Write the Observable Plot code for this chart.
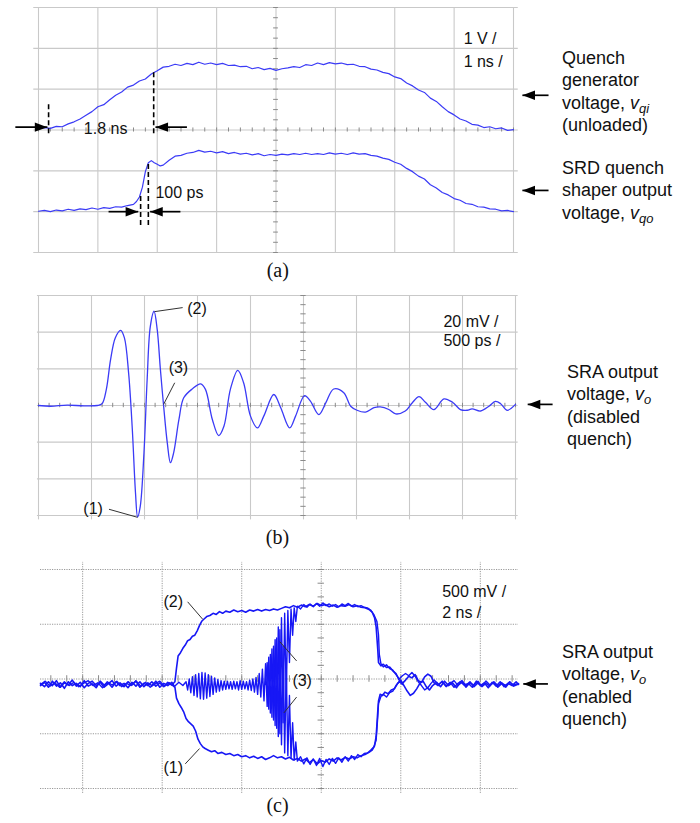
<!DOCTYPE html>
<html><head><meta charset="utf-8">
<script src="https://cdn.jsdelivr.net/npm/d3@7"></script>
<script src="https://cdn.jsdelivr.net/npm/@observablehq/plot@0.6"></script>
<style>
body{margin:0;background:#fff}
#wrap{position:relative;width:700px;height:823px;overflow:hidden;background:#fff}
.panel{position:absolute;left:0}
.lab{position:absolute;font-family:"Liberation Sans",Arial,sans-serif;font-size:18px;line-height:22.4px;color:#111;white-space:nowrap}
.lab i{font-style:italic}
.lab sub{font-size:0.72em;vertical-align:-0.3em;line-height:0}
</style></head>
<body><div id="wrap">
<div class="panel" id="pa" style="top:0"></div>
<div class="panel" id="pb" style="top:280px"></div>
<div class="panel" id="pc" style="top:545px"></div>
<div class="lab" style="left:562px;top:47px">Quench<br>generator<br>voltage, <i>v</i><sub><i>qi</i></sub><br>(unloaded)</div>
<div class="lab" style="left:562px;top:157px">SRD quench<br>shaper output<br>voltage, <i>v</i><sub><i>qo</i></sub></div>
<div class="lab" style="left:567px;top:361px">SRA output<br>voltage, <i>v</i><sub><i>o</i></sub><br>(disabled<br>quench)</div>
<div class="lab" style="left:562px;top:641px">SRA output<br>voltage, <i>v</i><sub><i>o</i></sub><br>(enabled<br>quench)</div>
</div>
<script>
// ---------- Panel (a): quench generator / SRD shaper (x: 1 ns/div, y: 1 V/div) ----------
const vqi = [[0,3.03],[0.1,3.06],[0.2,3.04],[0.3,3.09],[0.4,3.08],[0.5,3.15],[0.6,3.2],[0.7,3.27],[0.8,3.36],[0.9,3.45],[1.0,3.57],[1.1,3.62],[1.2,3.74],[1.3,3.85],[1.4,3.93],[1.5,4.05],[1.6,4.1],[1.7,4.2],[1.8,4.25],[1.9,4.37],[2.0,4.45],[2.1,4.54],[2.2,4.56],[2.3,4.61],[2.4,4.58],[2.5,4.63],[2.6,4.6],[2.7,4.66],[2.8,4.61],[2.9,4.64],[3.0,4.6],[3.1,4.63],[3.2,4.58],[3.3,4.59],[3.4,4.55],[3.5,4.56],[3.6,4.5],[3.7,4.53],[3.8,4.48],[3.9,4.51],[4.0,4.46],[4.1,4.5],[4.2,4.52],[4.3,4.55],[4.4,4.53],[4.5,4.6],[4.6,4.58],[4.7,4.64],[4.8,4.6],[4.9,4.65],[5.0,4.62],[5.1,4.64],[5.2,4.6],[5.3,4.61],[5.4,4.56],[5.5,4.55],[5.6,4.49],[5.7,4.47],[5.8,4.41],[5.9,4.38],[6.0,4.3],[6.1,4.26],[6.2,4.15],[6.3,4.08],[6.4,3.98],[6.5,3.92],[6.6,3.78],[6.7,3.7],[6.8,3.57],[6.9,3.45],[7.0,3.37],[7.1,3.27],[7.2,3.22],[7.3,3.14],[7.4,3.12],[7.5,3.06],[7.6,3.08],[7.7,3.03],[7.8,3.05],[7.9,2.99],[8.0,3.01]];
const vqo = [[0,1.01],[0.1,1.03],[0.2,1.0],[0.3,1.04],[0.4,1.02],[0.5,1.06],[0.6,1.03],[0.7,1.07],[0.8,1.05],[0.9,1.09],[1.0,1.06],[1.1,1.1],[1.2,1.08],[1.3,1.12],[1.4,1.11],[1.5,1.15],[1.6,1.18],[1.65,1.25],[1.7,1.36],[1.75,1.6],[1.8,1.98],[1.85,2.2],[1.9,2.25],[1.95,2.2],[2.0,2.16],[2.05,2.12],[2.1,2.14],[2.2,2.26],[2.3,2.36],[2.4,2.38],[2.5,2.43],[2.6,2.45],[2.7,2.5],[2.8,2.46],[2.9,2.48],[3.0,2.44],[3.1,2.47],[3.2,2.42],[3.3,2.45],[3.4,2.41],[3.5,2.43],[3.6,2.39],[3.7,2.42],[3.8,2.37],[3.9,2.4],[4.0,2.38],[4.1,2.41],[4.2,2.39],[4.3,2.42],[4.4,2.4],[4.5,2.43],[4.6,2.4],[4.7,2.42],[4.8,2.4],[4.9,2.44],[5.0,2.41],[5.1,2.43],[5.2,2.4],[5.3,2.44],[5.4,2.41],[5.5,2.42],[5.6,2.38],[5.7,2.36],[5.8,2.31],[5.9,2.28],[6.0,2.21],[6.1,2.16],[6.2,2.06],[6.3,1.98],[6.4,1.87],[6.5,1.8],[6.6,1.66],[6.7,1.58],[6.8,1.47],[6.9,1.41],[7.0,1.32],[7.1,1.28],[7.2,1.2],[7.3,1.18],[7.4,1.12],[7.5,1.11],[7.6,1.07],[7.7,1.06],[7.8,1.02],[7.9,1.03],[8.0,1.0]];
const gridXA = [0,1,2,3,4,5,6,7,8];
const gridYA = [0,1,2,3,4,5,6];
const dashA = [{x:0.17,y1:2.91,y2:3.68},{x:1.94,y1:2.91,y2:4.46},{x:1.72,y1:0.66,y2:1.44},{x:1.85,y1:0.66,y2:2.21}];
const arrowsA = [{tail:-0.39,tip:0.15,y:3.07,dir:"right"},{tail:2.5,tip:1.97,y:3.07,dir:"left"},{tail:1.18,tip:1.68,y:1.0,dir:"right"},{tail:2.39,tip:1.88,y:1.0,dir:"left"},{tail:8.59,tip:8.15,y:3.85,dir:"left"},{tail:8.59,tip:8.15,y:1.52,dir:"left"}];
const textsA = [{x:1.13,y:3.03,t:"1.8 ns",a:"middle"},{x:1.97,y:1.45,t:"100 ps",a:"start"},{x:7.16,y:5.24,t:"1 V /",a:"start"},{x:7.16,y:4.66,t:"1 ns /",a:"start"}];
const captionA = [{x:4.03,y:-0.45,t:"(a)"}];

// ---------- Panel (b): SRA output, disabled quench (x: 500 ps/div, y: 20 mV/div) ----------
const vob = [[0,0],[0.23,-0.02],[0.54,0.01],[0.86,-0.01],[1.11,0],[1.2,0.05],[1.28,0.44],[1.36,1.25],[1.45,1.85],[1.55,2.05],[1.62,1.85],[1.7,0.89],[1.77,-0.65],[1.83,-2.38],[1.87,-3.04],[1.92,-2.75],[1.99,-1.29],[2.05,0.71],[2.11,2.16],[2.18,2.57],[2.24,2.07],[2.3,0.98],[2.36,0],[2.43,-1.02],[2.49,-1.56],[2.55,-1.29],[2.65,-0.38],[2.74,0.21],[2.9,0.45],[3.06,0.59],[3.15,0.44],[3.28,-0.38],[3.4,-0.82],[3.5,-0.56],[3.62,0.44],[3.76,0.96],[3.87,0.62],[4.0,-0.29],[4.13,-0.61],[4.25,-0.29],[4.44,0.3],[4.57,-0.06],[4.74,-0.61],[4.85,-0.29],[5.02,0.27],[5.13,0.12],[5.29,-0.25],[5.42,0.07],[5.57,0.45],[5.76,0.35],[5.89,-0.02],[6.01,-0.13],[6.17,-0.18],[6.33,-0.06],[6.45,-0.04],[6.61,-0.11],[6.74,-0.23],[6.92,-0.15],[7.05,0.07],[7.18,0.24],[7.3,0.09],[7.46,-0.11],[7.65,0.18],[7.81,0.09],[7.96,-0.11],[8.09,-0.13],[8.18,-0.09],[8.34,-0.15],[8.5,-0.02],[8.62,0.11],[8.72,0.05],[8.84,-0.13],[9.0,0.03]];
const gridXB = [0,1,2,3,4,5,6,7,8,9];
const gridYB = [-3,-2,-1,0,1,2,3];
const leadersB = [{x1:2.19,y1:2.56,x2:2.72,y2:2.67},{x1:2.36,y1:0.03,x2:2.57,y2:0.62},{x1:1.33,y1:-2.83,x2:1.87,y2:-3.05}];
const textsB = [{x:2.99,y:2.63,t:"(2)",a:"middle"},{x:2.64,y:1.03,t:"(3)",a:"middle"},{x:1.03,y:-2.83,t:"(1)",a:"middle"},{x:7.64,y:2.27,t:"20 mV /",a:"start"},{x:7.64,y:1.75,t:"500 ps /",a:"start"}];
const arrowsB = [{tail:9.7,tip:9.23,y:0.03,dir:"left"}];
const captionB = [{x:4.51,y:-3.59,t:"(b)"}];

// ---------- Panel (c): SRA output, enabled quench (x: 2 ns/div, y: 500 mV/div) ----------
const tr2 = [[1.47,-0.08],[1.52,-0.14],[1.57,-0.05],[1.62,-0.12],[1.67,-0.03],[1.72,-0.15],[1.77,-0.07],[1.82,-0.11],[1.87,-0.02],[1.92,-0.13],[1.97,-0.06],[2.02,-0.16],[2.07,-0.08],[2.12,-0.04],[2.17,-0.12],[2.22,-0.06],[2.27,-0.15],[2.32,-0.09],[2.37,-0.03],[2.42,-0.13],[2.47,-0.07],[2.52,-0.14],[2.57,-0.05],[2.62,-0.11],[2.67,-0.04],[2.72,-0.15],[2.77,-0.08],[2.82,-0.12],[2.87,-0.05],[2.92,-0.13],[2.97,-0.07],[3.02,-0.14],[3.07,-0.06],[3.12,-0.11],[3.16,-0.05],[3.18,0.2],[3.2,0.42],[3.23,0.48],[3.26,0.56],[3.29,0.62],[3.32,0.7],[3.35,0.72],[3.38,0.78],[3.41,0.8],[3.44,0.88],[3.47,0.98],[3.5,1.06],[3.53,1.1],[3.56,1.14],[3.6,1.16],[3.64,1.2],[3.68,1.18],[3.72,1.23],[3.76,1.2],[3.8,1.24],[3.85,1.22],[3.9,1.26],[3.95,1.23],[4.0,1.25],[4.05,1.22],[4.1,1.26],[4.15,1.24],[4.2,1.27],[4.25,1.24],[4.3,1.27],[4.35,1.25],[4.4,1.28],[4.45,1.26],[4.5,1.29],[4.55,1.32],[4.6,1.3],[4.65,1.34],[4.7,1.31],[4.75,1.35],[4.8,1.32],[4.85,1.36],[4.9,1.33],[4.95,1.38],[5.0,1.34],[5.05,1.36],[5.1,1.32],[5.15,1.35],[5.2,1.31],[5.25,1.34],[5.3,1.33],[5.35,1.36],[5.4,1.32],[5.45,1.34],[5.5,1.31],[5.55,1.3],[5.6,1.27],[5.64,1.22],[5.67,1.12],[5.69,0.95],[5.71,0.55],[5.72,0.3],[5.75,0.24],[5.78,0.27],[5.82,0.21],[5.86,0.22],[5.9,0.15],[5.94,0.1],[5.98,-0.02],[6.02,-0.08],[6.06,-0.02],[6.1,0.05],[6.14,0.02],[6.18,0.08],[6.22,-0.03],[6.26,-0.06],[6.3,0.04],[6.34,0.09],[6.38,0.05],[6.42,-0.07],[6.47,-0.12],[6.52,-0.04],[6.57,-0.13],[6.62,-0.06],[6.67,-0.15],[6.72,-0.08],[6.77,-0.03],[6.82,-0.12],[6.87,-0.05],[6.92,-0.14],[6.97,-0.07],[7.02,-0.13],[7.07,-0.04],[7.12,-0.11],[7.17,-0.06],[7.22,-0.15],[7.27,-0.08],[7.32,-0.12],[7.37,-0.05],[7.42,-0.13],[7.48,-0.09]];
const tr1 = [[1.47,-0.12],[1.52,-0.06],[1.57,-0.15],[1.62,-0.04],[1.67,-0.13],[1.72,-0.07],[1.77,-0.17],[1.82,-0.05],[1.87,-0.12],[1.92,-0.08],[1.97,-0.14],[2.02,-0.03],[2.07,-0.13],[2.12,-0.09],[2.17,-0.16],[2.22,-0.04],[2.27,-0.11],[2.32,-0.07],[2.37,-0.15],[2.42,-0.05],[2.47,-0.12],[2.52,-0.08],[2.57,-0.16],[2.62,-0.06],[2.67,-0.13],[2.72,-0.05],[2.77,-0.14],[2.82,-0.07],[2.87,-0.12],[2.92,-0.04],[2.97,-0.15],[3.02,-0.08],[3.07,-0.12],[3.12,-0.06],[3.16,-0.15],[3.18,-0.35],[3.21,-0.45],[3.24,-0.52],[3.27,-0.6],[3.3,-0.72],[3.33,-0.78],[3.36,-0.82],[3.39,-0.86],[3.42,-0.95],[3.45,-1.1],[3.48,-1.18],[3.51,-1.24],[3.54,-1.27],[3.58,-1.3],[3.62,-1.33],[3.66,-1.31],[3.7,-1.36],[3.75,-1.34],[3.8,-1.38],[3.85,-1.36],[3.9,-1.4],[3.95,-1.38],[4.0,-1.42],[4.05,-1.4],[4.1,-1.44],[4.15,-1.41],[4.2,-1.45],[4.25,-1.42],[4.3,-1.47],[4.35,-1.44],[4.4,-1.4],[4.45,-1.44],[4.5,-1.42],[4.55,-1.46],[4.6,-1.43],[4.65,-1.48],[4.7,-1.45],[4.75,-1.5],[4.8,-1.46],[4.85,-1.53],[4.9,-1.47],[4.95,-1.55],[5.0,-1.49],[5.05,-1.52],[5.1,-1.46],[5.15,-1.5],[5.2,-1.44],[5.25,-1.48],[5.3,-1.43],[5.35,-1.46],[5.4,-1.42],[5.45,-1.44],[5.5,-1.4],[5.55,-1.38],[5.6,-1.34],[5.64,-1.3],[5.67,-1.22],[5.69,-1.05],[5.71,-0.6],[5.72,-0.4],[5.74,-0.28],[5.77,-0.3],[5.8,-0.24],[5.84,-0.27],[5.88,-0.2],[5.92,-0.18],[5.96,-0.08],[6.0,-0.02],[6.04,-0.12],[6.08,-0.22],[6.12,-0.3],[6.16,-0.26],[6.2,-0.18],[6.24,-0.08],[6.28,-0.04],[6.32,-0.14],[6.36,-0.2],[6.4,-0.12],[6.45,-0.06],[6.5,-0.14],[6.55,-0.04],[6.6,-0.12],[6.65,-0.07],[6.7,-0.16],[6.75,-0.05],[6.8,-0.11],[6.85,-0.08],[6.9,-0.15],[6.95,-0.04],[7.0,-0.12],[7.05,-0.07],[7.1,-0.16],[7.15,-0.06],[7.2,-0.13],[7.25,-0.05],[7.3,-0.14],[7.35,-0.08],[7.4,-0.12],[7.45,-0.05],[7.48,-0.1]];
const tr3up = [[1.47,-0.1],[1.53,-0.04],[1.59,-0.13],[1.65,-0.07],[1.71,-0.15],[1.77,-0.05],[1.83,-0.12],[1.89,-0.06],[1.95,-0.14],[2.01,-0.08],[2.07,-0.03],[2.13,-0.12],[2.19,-0.07],[2.25,-0.16],[2.31,-0.05],[2.37,-0.11],[2.43,-0.04],[2.49,-0.14],[2.55,-0.08],[2.61,-0.12],[2.67,-0.03],[2.73,-0.13],[2.79,-0.06],[2.85,-0.15],[2.91,-0.09],[2.97,-0.04],[3.03,-0.13],[3.09,-0.07],[3.15,-0.14],[3.21,-0.06],[3.26,-0.12],[3.3,-0.05],[3.32,-0.2],[3.34,0.0],[3.36,-0.25],[3.38,0.04],[3.4,-0.3],[3.42,0.08],[3.44,-0.33],[3.46,0.1],[3.48,-0.36],[3.5,0.12],[3.52,-0.37],[3.54,0.11],[3.56,-0.35],[3.58,0.08],[3.6,-0.32],[3.62,0.05],[3.64,-0.28],[3.66,0.02],[3.68,-0.24],[3.7,-0.01],[3.72,-0.22],[3.74,-0.03],[3.76,-0.2],[3.78,-0.04],[3.8,-0.19],[3.82,-0.04],[3.84,-0.18],[3.86,-0.05],[3.88,-0.19],[3.9,-0.04],[3.92,-0.18],[3.94,-0.05],[3.96,-0.2],[3.98,-0.03],[4.0,-0.19],[4.02,-0.04],[4.04,-0.18],[4.06,-0.05],[4.08,-0.2],[4.1,-0.02],[4.12,-0.21],[4.14,0.0],[4.16,-0.24],[4.18,0.03],[4.2,-0.28],[4.22,0.1],[4.24,-0.33],[4.26,0.18],[4.28,-0.4],[4.3,0.28],[4.32,-0.5],[4.34,0.4],[4.36,-0.62],[4.38,0.55],[4.4,-0.75],[4.42,0.72],[4.44,-0.9],[4.46,0.95],[4.48,-1.0],[4.5,1.12],[4.52,-0.8],[4.54,1.2],[4.56,-0.3],[4.58,1.25],[4.6,0.3],[4.62,1.28],[4.64,0.8],[4.66,1.3],[4.68,1.05],[4.7,1.33],[4.74,1.28],[4.78,1.36],[4.82,1.31],[4.86,1.37],[4.9,1.32],[4.94,1.38],[4.98,1.33],[5.02,1.39],[5.06,1.34],[5.1,1.37],[5.14,1.33],[5.18,1.36],[5.22,1.32],[5.26,1.37],[5.3,1.34],[5.34,1.38],[5.38,1.33],[5.42,1.36],[5.46,1.32],[5.5,1.34],[5.54,1.31],[5.58,1.3],[5.62,1.26],[5.66,1.18],[5.7,1.05],[5.72,0.8],[5.73,0.45],[5.75,0.28],[5.78,0.22],[5.82,0.26],[5.86,0.19],[5.9,0.16],[5.94,0.08],[5.98,0.0],[6.02,0.06],[6.06,0.1],[6.1,0.06],[6.14,0.12],[6.18,0.05],[6.22,-0.05],[6.26,-0.12],[6.3,-0.2],[6.34,-0.16],[6.38,-0.08],[6.42,-0.02],[6.47,-0.1],[6.52,-0.05],[6.57,-0.14],[6.62,-0.08],[6.67,-0.03],[6.72,-0.12],[6.77,-0.06],[6.82,-0.15],[6.87,-0.07],[6.92,-0.11],[6.97,-0.04],[7.02,-0.14],[7.07,-0.08],[7.12,-0.13],[7.17,-0.05],[7.22,-0.12],[7.27,-0.07],[7.32,-0.15],[7.37,-0.06],[7.42,-0.11],[7.48,-0.08]];
const tr3down = [[4.3,-0.1],[4.32,0.3],[4.34,-0.55],[4.36,0.45],[4.38,-0.7],[4.4,0.6],[4.42,-0.85],[4.44,0.75],[4.46,-1.05],[4.48,0.9],[4.5,-1.2],[4.52,0.6],[4.54,-1.35],[4.56,0.2],[4.58,-1.4],[4.6,-0.3],[4.62,-1.45],[4.64,-0.8],[4.66,-1.48],[4.68,-1.15],[4.7,-1.5],[4.74,-1.42],[4.78,-1.55],[4.82,-1.44],[4.86,-1.56],[4.9,-1.46],[4.94,-1.58],[4.98,-1.45],[5.02,-1.6],[5.06,-1.47],[5.1,-1.56],[5.14,-1.45],[5.18,-1.54],[5.22,-1.44],[5.26,-1.52],[5.3,-1.42],[5.34,-1.5],[5.38,-1.4],[5.42,-1.47],[5.46,-1.38],[5.5,-1.42],[5.54,-1.36],[5.58,-1.35],[5.62,-1.3],[5.66,-1.24],[5.69,-1.12],[5.71,-0.7],[5.72,-0.45],[5.75,-0.32],[5.78,-0.28],[5.82,-0.33],[5.86,-0.25],[5.9,-0.22],[5.94,-0.12],[5.98,-0.05],[6.02,-0.1]];
const gridXC = [2,3,4,5,6,7];
const gridYC = [-2,-1,0,1,2];
const leadersC = [{x1:3.32,y1:1.41,x2:3.51,y2:1.09},{x1:3.29,y1:-1.55,x2:3.47,y2:-1.27},{x1:4.69,y1:0.33,x2:4.48,y2:0.68},{x1:4.69,y1:-0.33,x2:4.53,y2:-0.62}];
const textsC = [{x:3.14,y:1.41,t:"(2)",a:"middle"},{x:3.14,y:-1.63,t:"(1)",a:"middle"},{x:4.76,y:-0.03,t:"(3)",a:"middle"},{x:6.52,y:1.59,t:"500 mV /",a:"start"},{x:6.52,y:1.2,t:"2 ns /",a:"start"}];
const arrowsC = [{tail:7.85,tip:7.54,y:-0.09,dir:"left"}];
const captionC = [{x:4.45,y:-2.31,t:"(c)"}];

// ---------- shared styling ----------
const SANS = "Liberation Sans, Arial, Helvetica, sans-serif";
const SERIF = "Liberation Serif, Times New Roman, serif";
const traceAB = "#3b3bf6";
const traceC = "#1717f5";
const gridCol = "#c9c9c9";
const tickCol = "#8a8a8a";
const arrowHead = {
  draw(ctx, size) {
    const r = Math.sqrt(size / Math.PI);
    ctx.moveTo(0, 0);
    ctx.lineTo(-2 * r, -0.75 * r);
    ctx.lineTo(-2 * r, 0.75 * r);
    ctx.closePath();
  }
};
const X = d => d[0], Y = d => d[1];

function arrowMarks(arr) {
  return [
    Plot.link(arr, {x1: "tail", x2: "tip", y1: "y", y2: "y", stroke: "black", strokeWidth: 1.7}),
    Plot.dot(arr.filter(d => d.dir === "right"), {x: "tip", y: "y", r: 6.3, symbol: arrowHead, fill: "black", stroke: "none"}),
    Plot.dot(arr.filter(d => d.dir === "left"), {x: "tip", y: "y", r: 6.3, symbol: arrowHead, fill: "black", stroke: "none", rotate: 180})
  ];
}
function textMarks(arr) {
  return [
    Plot.text(arr.filter(d => d.a === "start"), {x: "x", y: "y", text: "t", textAnchor: "start", fontSize: 16, fontFamily: SANS, fill: "#111"}),
    Plot.text(arr.filter(d => d.a === "middle"), {x: "x", y: "y", text: "t", textAnchor: "middle", fontSize: 16, fontFamily: SANS, fill: "#111"})
  ];
}
function captionMark(arr) {
  return Plot.text(arr, {x: "x", y: "y", text: "t", fontSize: 20, fontFamily: SERIF, fill: "#111"});
}
const svgStyle = {overflow: "visible", background: "transparent", fontFamily: SANS};

// ---------- Panel (a) ----------
const plotA = Plot.plot({
  width: 700, height: 280,
  marginTop: 7, marginBottom: 28, marginLeft: 38, marginRight: 187,
  x: {domain: [0, 8], axis: null},
  y: {domain: [0, 6], axis: null},
  style: svgStyle,
  marks: [
    Plot.ruleX(gridXA, {y1: 0, y2: 6, stroke: gridCol, strokeWidth: 1.1}),
    Plot.ruleY(gridYA, {x1: -0.08, x2: 8.08, stroke: gridCol, strokeWidth: 1.1}),
    Plot.ruleX(d3.range(0, 8.001, 0.2), {y1: 2.95, y2: 3.05, stroke: tickCol}),
    Plot.ruleY(d3.range(0, 6.001, 0.25), {x1: 3.96, x2: 4.04, stroke: tickCol}),
    Plot.line(vqi, {x: X, y: Y, stroke: traceAB, strokeWidth: 1.2}),
    Plot.line(vqo, {x: X, y: Y, stroke: traceAB, strokeWidth: 1.2}),
    Plot.ruleX(dashA, {x: "x", y1: "y1", y2: "y2", stroke: "black", strokeWidth: 1.6, strokeDasharray: "5,3"}),
    ...arrowMarks(arrowsA),
    ...textMarks(textsA),
    captionMark(captionA)
  ]
});
document.getElementById("pa").appendChild(plotA);

// ---------- Panel (b) ----------
const plotB = Plot.plot({
  width: 700, height: 265,
  marginTop: 15, marginBottom: 30, marginLeft: 38, marginRight: 185,
  x: {domain: [0, 9], axis: null},
  y: {domain: [-3, 3], axis: null},
  style: svgStyle,
  marks: [
    Plot.ruleX(gridXB, {y1: -3.12, y2: 3, stroke: gridCol, strokeWidth: 1.1}),
    Plot.ruleY(gridYB, {x1: -0.02, x2: 9.05, stroke: gridCol, strokeWidth: 1.1}),
    Plot.ruleX(d3.range(0, 9.001, 0.2), {y1: -0.06, y2: 0.06, stroke: tickCol}),
    Plot.ruleY(d3.range(-3, 3.001, 0.25), {x1: 4.95, x2: 5.05, stroke: tickCol}),
    Plot.line(vob, {x: X, y: Y, stroke: traceAB, strokeWidth: 1.3, curve: "catmull-rom"}),
    Plot.link(leadersB, {x1: "x1", y1: "y1", x2: "x2", y2: "y2", stroke: "#333", strokeWidth: 1}),
    ...textMarks(textsB),
    ...arrowMarks(arrowsB),
    captionMark(captionB)
  ]
});
document.getElementById("pb").appendChild(plotB);

// ---------- Panel (c) ----------
const plotC = Plot.plot({
  width: 700, height: 278,
  marginTop: 24, marginBottom: 35, marginLeft: 40, marginRight: 182,
  x: {domain: [1.47, 7.48], axis: null},
  y: {domain: [-2, 2], axis: null},
  style: svgStyle,
  marks: [
    Plot.ruleX(gridXC, {y1: -2.09, y2: 2.13, stroke: "#9a9a9a", strokeWidth: 1, strokeDasharray: "1.2,1.2"}),
    Plot.ruleY(gridYC, {x1: 1.47, x2: 7.48, stroke: "#9a9a9a", strokeWidth: 1, strokeDasharray: "1.2,1.2"}),
    Plot.ruleX(d3.range(1.6, 7.45, 0.2), {y1: -0.06, y2: 0.06, stroke: tickCol}),
    Plot.ruleY(d3.range(-2, 2.001, 0.25), {x1: 4.96, x2: 5.04, stroke: tickCol}),
    Plot.line(tr1, {x: X, y: Y, stroke: traceC, strokeWidth: 1.6}),
    Plot.line(tr2, {x: X, y: Y, stroke: traceC, strokeWidth: 1.6}),
    Plot.line(tr3up, {x: X, y: Y, stroke: traceC, strokeWidth: 1.4}),
    Plot.line(tr3down, {x: X, y: Y, stroke: traceC, strokeWidth: 1.4}),
    Plot.link(leadersC, {x1: "x1", y1: "y1", x2: "x2", y2: "y2", stroke: "#333", strokeWidth: 1}),
    ...textMarks(textsC),
    ...arrowMarks(arrowsC),
    captionMark(captionC)
  ]
});
document.getElementById("pc").appendChild(plotC);
</script>
</body></html>
